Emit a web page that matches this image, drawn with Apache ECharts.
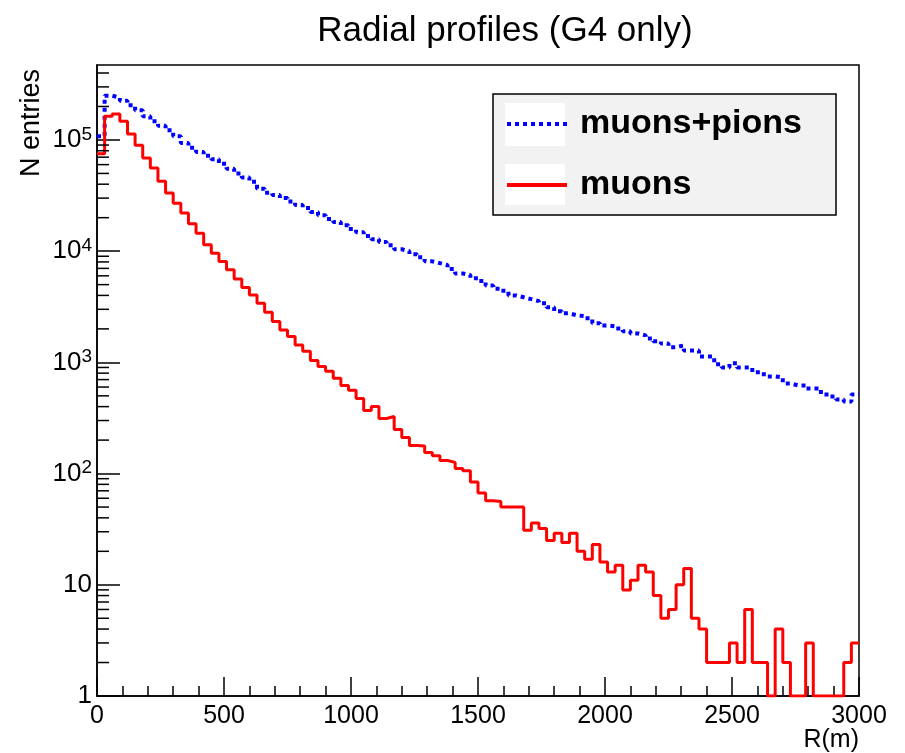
<!DOCTYPE html>
<html>
<head>
<meta charset="utf-8">
<script src="https://cdn.jsdelivr.net/npm/echarts@6/dist/echarts.min.js"></script>
<style>
  html, body { margin: 0; padding: 0; background: #fff; }
  #chart { width: 905px; height: 753px; }
</style>
</head>
<body>
<div id="chart"></div>
<script>
// ---- Data ----
const chartTitle = 'Radial profiles (G4 only)';
const xTitle = 'R(m)';
const yTitle = 'N entries';
const seriesNames = ['muons+pions', 'muons'];

// lower edges of the 100 histogram bins (30 m each), upper edge of last bin = 3000
const binLowEdges = [0,30,60,90,120,150,180,210,240,270,300,330,360,390,420,450,480,510,540,570,
  600,630,660,690,720,750,780,810,840,870,900,930,960,990,1020,1050,1080,1110,1140,1170,
  1200,1230,1260,1290,1320,1350,1380,1410,1440,1470,1500,1530,1560,1590,1620,1650,1680,1710,1740,1770,
  1800,1830,1860,1890,1920,1950,1980,2010,2040,2070,2100,2130,2160,2190,2220,2250,2280,2310,2340,2370,
  2400,2430,2460,2490,2520,2550,2580,2610,2640,2670,2700,2730,2760,2790,2820,2850,2880,2910,2940,2970];
const xUpperEdge = 3000;

const muonsPions = [108000,250000,240000,225000,205000,185000,163000,147000,134000,122000,
  108000,94000,85000,78000,72000,67000,61000,55000,50000,46000,
  42000,36500,33500,32000,30000,28000,26000,24500,22500,21000,
  19500,18300,17100,15800,14800,13700,12800,12100,11300,10400,
  10000,9400,8800,8100,7800,7500,6900,6300,6100,5700,
  5400,4900,4600,4400,4000,3850,3700,3550,3400,3130,
  2880,2760,2650,2600,2490,2250,2150,2110,2020,1900,
  1820,1750,1640,1550,1480,1370,1420,1280,1280,1130,
  1130,960,900,980,900,900,813,780,748,732,
  647,621,621,583,583,515,494,464,445,515];

const muons = [75000,163600,171500,147300,113300,89600,68900,56000,42500,33300,
  27000,22000,17600,14500,11400,9600,8070,6790,5630,4710,
  4040,3400,2820,2330,1955,1705,1432,1256,1042,920,
  830,718,621,560,474,370,402,313,326,249,
  211,179,177,155,145,131,126,111,106,84,
  67,57,56,50,50,50,31,36,32,25,
  29,24,29,20,17,23,16,13,15,9,
  11,15,13,8,5,6,10,14,5,4,
  2,2,2,3,2,6,2,2,1,4,
  2,1,1,3,1,1,1,1,2,3];

const xTicks = { min: 0, max: 3000, interval: 500 };
const yRange = { min: 1, max: 472000 };
const yMinorTickValues = [2,3,4,5,6,7,8,9,20,30,40,50,60,70,80,90,
  200,300,400,500,600,700,800,900,2000,3000,4000,5000,6000,7000,8000,9000,
  20000,30000,40000,50000,60000,70000,80000,90000,200000,300000,400000];

// ---- Build histogram step data ----
function histPairs(vals) {
  const out = binLowEdges.map((e, i) => [e, vals[i]]);
  out.push([xUpperEdge, vals[vals.length - 1]]);
  return out;
}

const FONT = '"Liberation Sans", Arial, Helvetica, sans-serif';
const chart = echarts.init(document.getElementById('chart'), null, { renderer: 'canvas' });

const BLUE_DASH = [4, 4];
const legendCommon = {
  left: 505, padding: 0, orient: 'vertical',
  itemWidth: 60, itemHeight: 14, selectedMode: false,
  itemStyle: { opacity: 0 },
  lineStyle: { width: 4 },
  textStyle: { fontFamily: FONT, fontSize: 34, fontWeight: 'bold', color: '#000', lineHeight: 40, padding: [0, 0, 0, 8] }
};

const option = {
  backgroundColor: '#ffffff',
  animation: false,
  title: {
    text: chartTitle,
    left: 500,
    top: 9,
    textAlign: 'center',
    textStyle: { fontFamily: FONT, fontSize: 35, fontWeight: 'normal', color: '#000' }
  },
  grid: {
    left: 97, right: 46, top: 65, bottom: 57,
    show: true, borderColor: '#000', borderWidth: 1.5, backgroundColor: 'transparent'
  },
  legend: [
    Object.assign({ data: [seriesNames[0]], top: 104 }, legendCommon),
    Object.assign({ data: [seriesNames[1]], top: 165 }, legendCommon)
  ],
  graphic: [
    { type: 'rect', z: 3, shape: { x: 493, y: 94, width: 343, height: 121 },
      style: { fill: '#f2f2f2', stroke: '#000', lineWidth: 1.5 } },
    { type: 'rect', z: 3, shape: { x: 505, y: 103, width: 60, height: 43 }, style: { fill: '#fff' } },
    { type: 'rect', z: 3, shape: { x: 505, y: 164, width: 60, height: 41 }, style: { fill: '#fff' } },
    { type: 'text', z: 3, x: 32, y: 123, rotation: Math.PI / 2,
      style: { text: yTitle, fontFamily: FONT, fontSize: 27, fill: '#000', align: 'center', verticalAlign: 'middle' } },
    { type: 'text', z: 3, x: 859, y: 740,
      style: { text: xTitle, fontFamily: FONT, fontSize: 25, fill: '#000', align: 'right', verticalAlign: 'middle' } }
  ],
  xAxis: {
    type: 'value',
    min: xTicks.min, max: xTicks.max, interval: xTicks.interval,
    axisLine: { show: true, onZero: false, lineStyle: { color: '#000', width: 1.5 } },
    axisTick: { show: true, inside: true, length: 19, lineStyle: { color: '#000', width: 1.5 } },
    minorTick: { show: true, splitNumber: 5, length: 10, lineStyle: { color: '#000', width: 1.5 } },
    splitLine: { show: false },
    axisLabel: { fontFamily: FONT, fontSize: 25, color: '#000', margin: 8,
      formatter: function (v) { return String(v); } }
  },
  yAxis: {
    type: 'log', logBase: 10,
    min: yRange.min, max: yRange.max,
    axisLine: { show: true, onZero: false, lineStyle: { color: '#000', width: 1.5 } },
    axisTick: { show: true, inside: true, length: 23, lineStyle: { color: '#000', width: 1.5 } },
    minorTick: { show: false },
    splitLine: { show: false },
    axisLabel: {
      showMaxLabel: false,
      margin: 5,
      formatter: function (v) {
        const e = Math.round(Math.log10(v));
        if (Math.abs(Math.log10(v) - e) > 1e-6) return '';
        if (e === 0) return '{b|1}';
        if (e === 1) return '{b|10}';
        return '{b|10}{s|' + e + '}';
      },
      rich: {
        b: { fontFamily: FONT, fontSize: 26, color: '#000', lineHeight: 30 },
        s: { fontFamily: FONT, fontSize: 19, color: '#000', lineHeight: 19, verticalAlign: 'top' }
      }
    }
  },
  series: [
    {
      name: seriesNames[0], type: 'line', step: 'end', symbol: 'none', showSymbol: false,
      data: histPairs(muonsPions), z: 2,
      itemStyle: { color: '#0000ff' },
      lineStyle: { color: '#0000ff', width: 4, type: BLUE_DASH }
    },
    {
      name: seriesNames[1], type: 'line', step: 'end', symbol: 'none', showSymbol: false,
      data: histPairs(muons), z: 2,
      itemStyle: { color: '#ff0000' },
      lineStyle: { color: '#ff0000', width: 3 }
    },
    {
      name: 'yMinorTicks', type: 'custom', silent: true, z: 5, clip: false,
      data: yMinorTickValues.map(v => [xTicks.min, v]),
      renderItem: function (params, api) {
        const p = api.coord([api.value(0), api.value(1)]);
        return { type: 'line', shape: { x1: p[0], y1: p[1], x2: p[0] + 12, y2: p[1] },
                 style: { stroke: '#000', lineWidth: 1.5 } };
      }
    }
  ]
};
chart.setOption(option);
</script>
</body>
</html>
